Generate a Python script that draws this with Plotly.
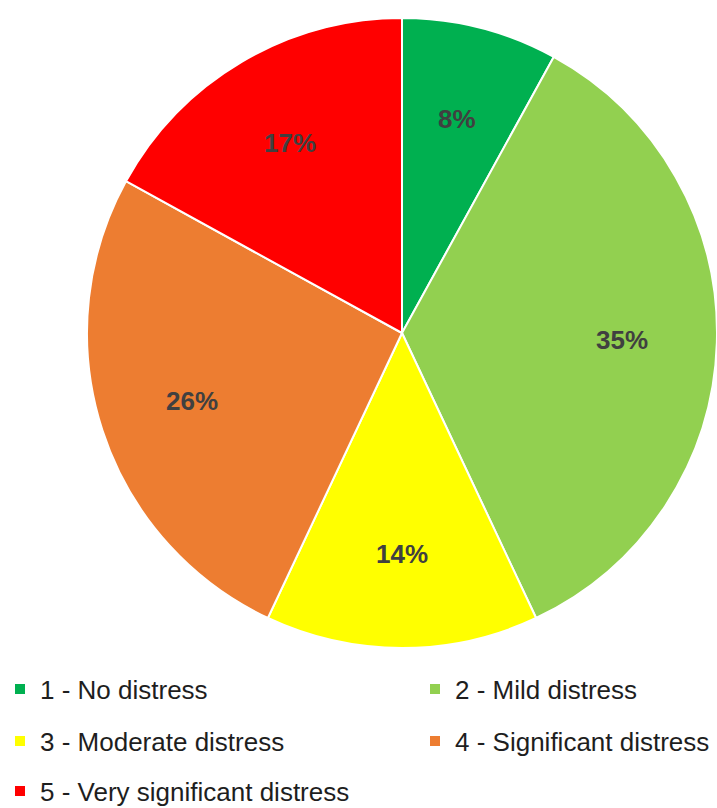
import math
import plotly.graph_objects as go

labels = ["1 - No distress", "2 - Mild distress", "3 - Moderate distress",
          "4 - Significant distress", "5 - Very significant distress"]
values = [8, 35, 14, 26, 17]
colors = ["#00B050", "#92D050", "#FFFF00", "#ED7D31", "#FF0000"]
legend_rows = ["legend", "legend", "legend2", "legend2", "legend3"]
first_in_row = [True, False, True, False, True]

W, H = 717, 808
FONT = "Liberation Sans, Arial, sans-serif"

# pie placement (pixels from top-left)
dom_x = [87 / W, 1.0]
dom_y = [(H - 652) / H, (H - 14) / H]

fig = go.Figure()
fig.add_trace(go.Pie(
    labels=labels,
    values=values,
    marker=dict(colors=colors, line=dict(color="white", width=2)),
    sort=False,
    direction="clockwise",
    rotation=0,
    textinfo="none",
    hoverinfo="label+percent",
    showlegend=False,
    domain=dict(x=dom_x, y=dom_y),
))

# legend entries (square markers), one legend per row
for lab, col, lg, first in zip(labels, colors, legend_rows, first_in_row):
    fig.add_trace(go.Scatter(
        x=[None], y=[None], mode="markers", name=lab,
        marker=dict(symbol="square", size=10, color=col),
        legend=lg, showlegend=True, hoverinfo="skip",
        legendwidth=370 if first and lg != "legend3" else None,
    ))

# percentage labels at ~70% of the radius, on each slice's mid-angle
wpx = (dom_x[1] - dom_x[0]) * W
hpx = (dom_y[1] - dom_y[0]) * H
r_px = min(wpx, hpx) / 2
cx = (dom_x[0] + dom_x[1]) / 2
cy = (dom_y[0] + dom_y[1]) / 2
total = sum(values)
cum = 0
for v in values:
    mid = (cum + v / 2) / total * 2 * math.pi
    cum += v
    fig.add_annotation(
        x=cx + 0.70 * r_px * math.sin(mid) / W,
        y=cy + 0.70 * r_px * math.cos(mid) / H,
        xref="paper", yref="paper", showarrow=False,
        text=f"<b>{round(v / total * 100)}%</b>",
        font=dict(family=FONT, size=26, color="#404040"),
        xanchor="center", yanchor="middle",
    )

legend_common = dict(
    orientation="h", xanchor="left", yanchor="middle",
    font=dict(family=FONT, size=26, color="#1e1e1e"),
    bgcolor="rgba(0,0,0,0)", borderwidth=0,
)

fig.update_layout(
    width=W, height=H,
    margin=dict(l=0, r=0, t=0, b=0, autoexpand=False),
    paper_bgcolor="white",
    plot_bgcolor="white",
    xaxis=dict(visible=False),
    yaxis=dict(visible=False),
    showlegend=True,
    legend=dict(legend_common, x=0, y=(H - 689) / H),
    legend2=dict(legend_common, x=0, y=(H - 741) / H),
    legend3=dict(legend_common, x=0, y=(H - 791) / H),
)

fig.write_html(
    "out.html",
    config={"displayModeBar": False},
    post_script="document.body.style.margin='0';document.body.style.overflow='hidden';",
)
